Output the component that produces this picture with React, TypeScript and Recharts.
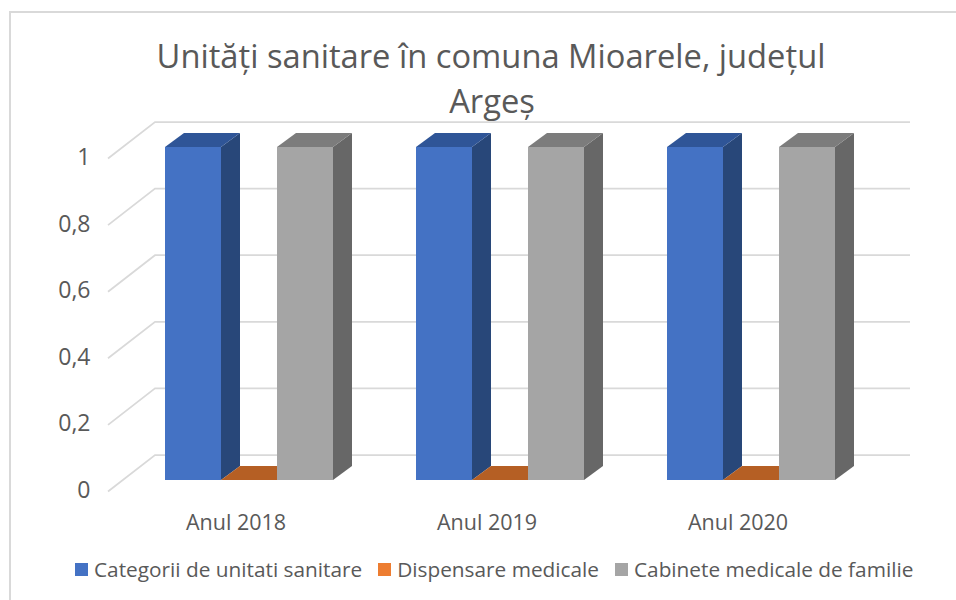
import { BarChart, Bar, XAxis, YAxis, CartesianGrid, Legend } from 'recharts';

const years = ['Anul 2018', 'Anul 2019', 'Anul 2020'];
const categorii = [1, 1, 1];
const dispensare = [0, 0, 0];
const cabinete = [1, 1, 1];
const yTicks = [0, 0.2, 0.4, 0.6, 0.8, 1];
const titleLines = ['Unități sanitare în comuna Mioarele, județul', 'Argeș'];

const chartData = years.map((year, i) => ({
  year,
  categorii: categorii[i],
  dispensare: dispensare[i],
  cabinete: cabinete[i],
}));

const FONT = '"Open Sans", sans-serif';
const TEXT = '#595959';
const GRID = '#d9d9d9';

// column depth, the picture is a 3D clustered column
const DX = 19;
const DY = 14;

function box3d(topColor: string, sideColor: string) {
  return function Box(props: any) {
    const { x, y, width, height, fill } = props;
    const r = x + width;
    const b = y + height;
    return (
      <g>
        <polygon points={`${r},${y} ${r + DX},${y - DY} ${r + DX},${b - DY} ${r},${b}`} fill={sideColor} />
        <polygon points={`${x},${y} ${x + DX},${y - DY} ${r + DX},${y - DY} ${r},${y}`} fill={topColor} />
        {height > 0 && <rect x={x} y={y} width={width} height={height} fill={fill} />}
      </g>
    );
  };
}

function wallLine(props: any) {
  const { x1, x2, y1, index } = props;
  return (
    <polyline
      key={index}
      points={`${x1 - 15.5},${y1 + 11.5} ${x1 + 31.5},${y1 - 25} ${x2 + 33.5},${y1 - 25}`}
      fill="none"
      stroke={GRID}
      strokeWidth={1.75}
    />
  );
}

function YTick({ x, y, payload }: any) {
  return (
    <text x={x - 25} y={y + 18} textAnchor="end" fontFamily={FONT} fontSize={23} fill={TEXT}>
      {String(payload.value).replace('.', ',')}
    </text>
  );
}

function XTick({ x, y, payload }: any) {
  return (
    <text x={x - 13} y={y + 42} textAnchor="middle" fontFamily={FONT} fontSize={21.5} fill={TEXT}>
      {payload.value}
    </text>
  );
}

function LegendRow({ payload }: any) {
  return (
    <div style={{ display: 'flex', marginLeft: 75, fontFamily: FONT, fontSize: 20.8, color: TEXT, whiteSpace: 'nowrap' }}>
      {(payload || []).map((entry: any) => (
        <div key={entry.value} style={{ display: 'flex', alignItems: 'center', marginRight: 16 }}>
          <span style={{ width: 13, height: 13, background: entry.color, marginRight: 6 }} />
          {entry.value}
        </div>
      ))}
    </div>
  );
}

export default function App() {
  return (
    <div style={{ position: 'relative', width: 956, height: 600, background: '#fff', overflow: 'hidden' }}>
      <style>{'html,body{margin:0;padding:0}'}</style>
      <div
        style={{
          position: 'absolute',
          left: 9,
          top: 11,
          width: 960,
          height: 600,
          border: `2.5px solid ${GRID}`,
          boxSizing: 'border-box',
        }}
      />
      <BarChart
        width={956}
        height={600}
        data={chartData}
        margin={{ top: 147, right: 79.5, bottom: 20, left: 33.5 }}
        barGap={0}
        barCategoryGap={41.5}
        style={{ position: 'absolute', left: 0, top: 0 }}
      >
        <CartesianGrid vertical={false} horizontal={wallLine} />
        <XAxis dataKey="year" height={60} axisLine={false} tickLine={false} tick={<XTick />} interval={0} />
        <YAxis width={90} domain={[0, 1]} ticks={yTicks} axisLine={false} tickLine={false} tick={<YTick />} interval={0} />
        <Legend
          height={40}
          verticalAlign="bottom"
          itemSorter={null}
          wrapperStyle={{ left: 0, top: 555, width: 956 }}
          content={<LegendRow />}
        />
        <Bar dataKey="categorii" name="Categorii de unitati sanitare" fill="#4472C4" isAnimationActive={false} shape={box3d('#2F5597', '#284779')} />
        <Bar dataKey="dispensare" name="Dispensare medicale" fill="#ED7D31" isAnimationActive={false} shape={box3d('#B55F24', '#9E480E')} />
        <Bar dataKey="cabinete" name="Cabinete medicale de familie" fill="#A5A5A5" isAnimationActive={false} shape={box3d('#7C7C7C', '#676767')} />
        <text x={491} y={68} textAnchor="middle" fontFamily={FONT} fontSize={32.7} fill={TEXT}>
          {titleLines[0]}
        </text>
        <text x={492} y={113} textAnchor="middle" fontFamily={FONT} fontSize={32.7} fill={TEXT}>
          {titleLines[1]}
        </text>
      </BarChart>
    </div>
  );
}
